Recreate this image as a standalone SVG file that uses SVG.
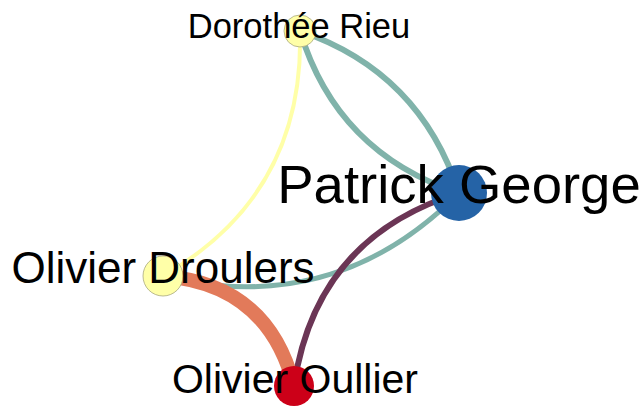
<svg xmlns="http://www.w3.org/2000/svg" width="644" height="407" viewBox="0 0 644 407">
<style>
.e{fill:none;stroke-linecap:butt}
.teal{stroke:#80b3aa}
.lbl{font-family:"Liberation Sans",Arial,sans-serif;fill:#000;text-anchor:middle}
.yel{fill:#ffffa8;stroke:#a8a880;stroke-width:0.8}
</style>
<rect width="644" height="407" fill="#fff"/>
<g id="edges">
<path class="e teal" stroke-width="6" d="M300,31 Q420,72 459,193"/>
<path class="e teal" stroke-width="6" d="M300,31 Q337,153 459,193"/>
<path class="e" stroke="#ffffa8" stroke-width="4" d="M300,31 Q304.5,194.5 163,276"/>
<path class="e teal" stroke-width="5" d="M163,276 Q334.6,318.5 459,193"/>
<path class="e" stroke="#6b3555" stroke-width="6" d="M294,386 Q315.5,237.5 459,193"/>
<path class="e" stroke="#e27a5a" stroke-width="14" d="M163,276 Q268,284 294,386"/>
</g>
<g id="node-dorothee">
<circle class="yel" cx="300" cy="31" r="16"/>
</g>
<g id="node-patrick">
<circle cx="459" cy="193" r="28" fill="#2563a6"/>
</g>
<g id="node-droulers">
<circle class="yel" cx="163" cy="276" r="20"/>
</g>
<g id="node-oullier">
<circle cx="294" cy="386" r="20" fill="#cc0018"/>
</g>
<g id="labels">
<text class="lbl" x="299" y="38" font-size="34.5">Dorothée Rieu</text>
<text class="lbl" x="459" y="203" font-size="54.5">Patrick George</text>
<text class="lbl" x="163" y="283" font-size="44">Olivier Droulers</text>
<text class="lbl" x="295" y="393" font-size="41">Olivier Oullier</text>
</g>
</svg>
